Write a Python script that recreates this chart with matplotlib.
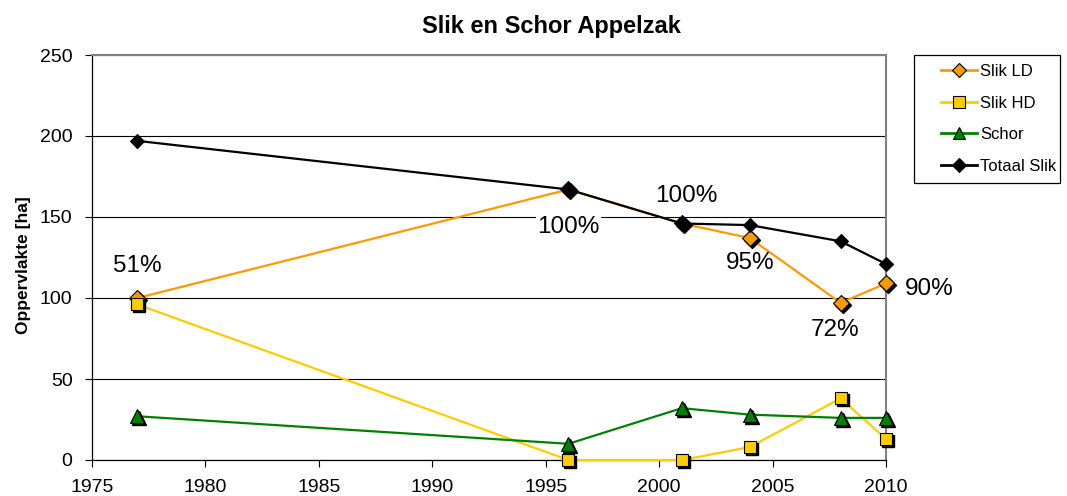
import matplotlib.pyplot as plt
import matplotlib.transforms as mtransforms
from matplotlib.patches import Rectangle

plt.rcParams["font.family"] = ["Liberation Sans", "DejaVu Sans"]

# ---------------------------------------------------------------------------
# Data
# ---------------------------------------------------------------------------
YEARS = [1977, 1996, 2001, 2004, 2008, 2010]
SLIK_LD = [100, 167, 146, 137, 97, 109]
SLIK_HD = [96, 0, 0, 8, 38, 13]
SCHOR = [27, 10, 32, 28, 26, 26]
TOTAAL_SLIK = [197, 167, 146, 145, 135, 121]

PCT_LABELS = ["51%", "100%", "100%", "95%", "72%", "90%"]
PCT_POS = [(1977, 120), (1996, 144), (2001.2, 163), (2004, 121.5),
           (2007.75, 80), (2011.9, 105.5)]

ORANGE = "#FF9900"
YELLOW = "#FFCC00"
GREEN = "#008000"
BLACK = "#000000"
GRAY = "#808080"

W, H = 1067, 496


def plot_series(axis, x, y, color, marker, size, label, shadow, z):
    """Line with markers; optional Excel-like drop shadow under the markers."""
    axis.plot(x, y, color=color, linewidth=1.6, label=label, zorder=z,
              clip_on=False)
    if shadow:
        offset = mtransforms.offset_copy(axis.transData, fig=axis.figure,
                                         x=2, y=-2, units="dots")
        axis.plot(x, y, linestyle="none", marker=marker, markersize=size,
                  color=BLACK, transform=offset, zorder=z + 0.1, clip_on=False)
    axis.plot(x, y, linestyle="none", marker=marker, markersize=size,
              markerfacecolor=color, markeredgecolor=BLACK,
              markeredgewidth=0.8, zorder=z + 0.2, clip_on=False)


def main():
    fig = plt.figure(figsize=(W / 100, H / 100), dpi=100)
    ax = fig.add_axes([92 / W, 1 - 460 / H, (886 - 92) / W, (460 - 55) / H])

    plot_series(ax, YEARS, SLIK_LD, ORANGE, "D", 8, "Slik LD", True, 3)
    plot_series(ax, YEARS, SLIK_HD, YELLOW, "s", 9, "Slik HD", True, 4)
    plot_series(ax, YEARS, SCHOR, GREEN, "^", 10, "Schor", True, 5)
    plot_series(ax, YEARS, TOTAAL_SLIK, BLACK, "D", 7, "Totaal Slik", False, 6)

    for text, (px, py) in zip(PCT_LABELS, PCT_POS):
        bbox = None
        if text == "100%" and px < 2000:
            bbox = dict(facecolor="white", edgecolor="none", pad=1)
        ax.text(px, py, text, fontsize=17.5, ha="center", va="center",
                bbox=bbox, zorder=8, clip_on=False)

    ax.set_xlim(1975, 2010)
    ax.set_ylim(0, 250)
    ax.set_xticks(range(1975, 2011, 5))
    ax.set_yticks(range(0, 251, 50))
    ax.tick_params(axis="both", direction="out", labelsize=14, length=5,
                   width=0.8, color=BLACK)
    ax.tick_params(axis="x", pad=9)
    ax.tick_params(axis="y", pad=9)
    ax.yaxis.grid(True, color=BLACK, linewidth=0.8)
    ax.set_axisbelow(True)

    for side in ("left", "bottom"):
        ax.spines[side].set_color(BLACK)
        ax.spines[side].set_linewidth(0.9)
    for side in ("top", "right"):
        ax.spines[side].set_color(GRAY)
        ax.spines[side].set_linewidth(1.5)

    ax.set_ylabel("Oppervlakte [ha]", fontsize=12.5, fontweight="bold")
    ax.yaxis.set_label_coords(-0.077, 0.48)
    fig.text(551 / W, 1 - 27 / H, "Slik en Schor Appelzak", fontsize=17,
             fontweight="bold", ha="center", va="center")

    # Legend entries without frame, frame drawn as a separate box.
    handles = [line for line in ax.get_lines() if not line.get_label().startswith("_")]
    leg = fig.legend(handles=handles, loc="upper left",
                     bbox_to_anchor=(941 / W, 1 - 64 / H),
                     bbox_transform=fig.transFigure, fontsize=12,
                     frameon=False, handlelength=2.15, labelspacing=1.0,
                     borderpad=0, handletextpad=0.2, borderaxespad=0)
    marker_specs = [("D", ORANGE, 7), ("s", YELLOW, 8), ("^", GREEN, 9),
                    ("D", BLACK, 7)]
    for legline, (mk, col, ms) in zip(leg.get_lines(), marker_specs):
        legline.set_marker(mk)
        legline.set_markersize(ms)
        legline.set_markerfacecolor(col)
        legline.set_markeredgecolor(BLACK)
        legline.set_markeredgewidth(0.8)
        legline.set_linewidth(2.0)
    fig.patches.append(Rectangle((914 / W, 1 - 183 / H), 146 / W, 128 / H,
                                 transform=fig.transFigure, fill=False,
                                 edgecolor=BLACK, linewidth=0.9))

    fig.savefig("out.png", dpi=100, facecolor="white")
    plt.close(fig)


if __name__ == "__main__":
    main()
